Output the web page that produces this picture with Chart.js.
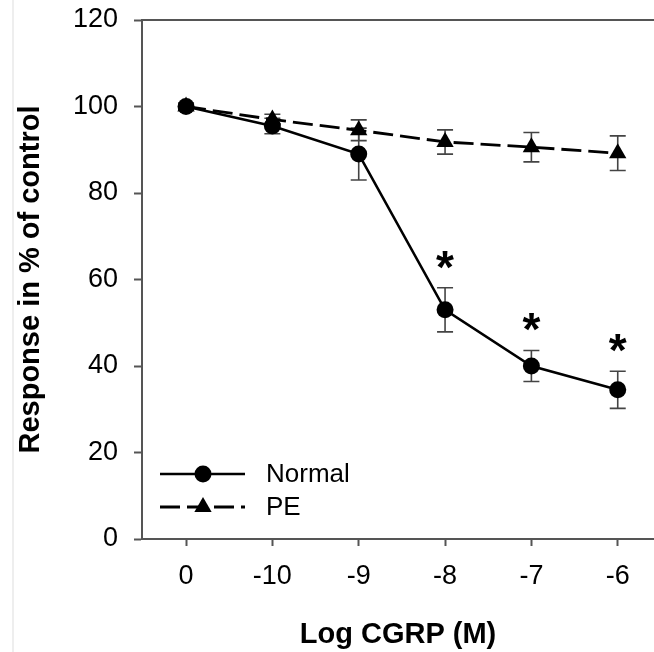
<!DOCTYPE html>
<html>
<head>
<meta charset="utf-8">
<script src="https://cdn.jsdelivr.net/npm/chart.js@4.4.0/dist/chart.umd.min.js"></script>
<style>
html, body { margin: 0; padding: 0; background: #fff; }
#wrap { width: 654px; height: 652px; position: relative; }
#edge { position: absolute; left: 12px; top: 0; width: 2px; height: 652px; background: #eeeeee; }
#myChart { position: absolute; left: 0; top: 0; }
</style>
</head>
<body>
<div id="wrap">
  <div id="edge"></div>
  <canvas id="myChart" width="654" height="652"></canvas>
</div>
<script>
// doses on the x axis (log M), 0 = control
var doses = ["0", "-10", "-9", "-8", "-7", "-6"];

// Normal group: mean and SEM
var normalMean = [100, 95.5, 89, 53, 40, 34.5];
var normalErr = [0.8, 1.8, 6.0, 5.1, 3.6, 4.3];
var normalStar = [false, false, false, true, true, true];

// PE group: mean and SEM
var peMean = [100, 97, 94.5, 91.8, 90.6, 89.2];
var peErr = [0.5, 1.2, 2.4, 2.8, 3.4, 4.0];

var yTicks = [0, 20, 40, 60, 80, 100, 120];

var FONT = "'Liberation Sans', Arial, Helvetica, sans-serif";
var AXIS_COLOR = "#555555";

function toPoints(means) {
    return means.map(function (m, i) { return { x: i, y: m }; });
}

// error bars, drawn before the markers so the markers sit on top
var errorBars = {
    id: "errorBars",
    beforeDatasetsDraw: function (chart) {
        var ctx = chart.ctx;
        var xs = chart.scales.x, ys = chart.scales.y;
        ctx.save();
        ctx.strokeStyle = "#444";
        ctx.lineWidth = 1.6;
        chart.data.datasets.forEach(function (ds) {
            ds.data.forEach(function (p, i) {
                var e = ds.errors[i];
                var x = xs.getPixelForValue(p.x);
                var yt = ys.getPixelForValue(p.y + e);
                var yb = ys.getPixelForValue(p.y - e);
                ctx.beginPath();
                ctx.moveTo(x, yt); ctx.lineTo(x, yb);
                ctx.moveTo(x - 8, yt); ctx.lineTo(x + 8, yt);
                ctx.moveTo(x - 8, yb); ctx.lineTo(x + 8, yb);
                ctx.stroke();
            });
        });
        ctx.restore();
    },
    // significance stars above the Normal error bars
    afterDatasetsDraw: function (chart) {
        var ctx = chart.ctx;
        var xs = chart.scales.x, ys = chart.scales.y;
        ctx.save();
        ctx.fillStyle = "#000";
        ctx.font = "bold 46px " + FONT;
        ctx.textAlign = "center";
        ctx.textBaseline = "alphabetic";
        normalStar.forEach(function (s, i) {
            if (!s) return;
            var x = xs.getPixelForValue(i);
            var y = ys.getPixelForValue(normalMean[i] + normalErr[i]);
            ctx.fillText("*", x, y - 5);
        });
        ctx.restore();
    }
};

// top frame line
var frame = {
    id: "frame",
    afterDraw: function (chart) {
        var a = chart.chartArea, ctx = chart.ctx;
        ctx.save();
        ctx.strokeStyle = AXIS_COLOR;
        ctx.lineWidth = 2;
        ctx.beginPath();
        ctx.moveTo(a.left, a.top);
        ctx.lineTo(a.right, a.top);
        ctx.stroke();
        ctx.restore();
    }
};

// legend inside the plot, bottom left
var insideLegend = {
    id: "insideLegend",
    afterDraw: function (chart) {
        var a = chart.chartArea, ctx = chart.ctx;
        var rows = [a.bottom - 65, a.bottom - 32];
        ctx.save();
        chart.data.datasets.forEach(function (ds, i) {
            var y = rows[i];
            var x0 = a.left + 18, x1 = a.left + 103, xm = a.left + 61;
            ctx.strokeStyle = ds.borderColor;
            ctx.lineWidth = ds.borderWidth;
            ctx.setLineDash(ds.borderDash || []);
            ctx.beginPath();
            ctx.moveTo(x0, y); ctx.lineTo(x1, y);
            ctx.stroke();
            ctx.setLineDash([]);
            ctx.fillStyle = ds.pointBackgroundColor;
            Chart.helpers.drawPoint(ctx, {
                pointStyle: ds.pointStyle, radius: ds.pointRadius, rotation: 0, borderWidth: 0
            }, xm, y);
            ctx.fillStyle = "#000";
            ctx.font = "26px " + FONT;
            ctx.textAlign = "left";
            ctx.textBaseline = "middle";
            ctx.fillText(ds.label, a.left + 124, y + 1);
        });
        ctx.restore();
    }
};

new Chart("myChart", {
    type: "line",
    data: {
        datasets: [{
            label: "Normal",
            data: toPoints(normalMean),
            errors: normalErr,
            borderColor: "#000",
            borderWidth: 2.5,
            pointStyle: "circle",
            pointRadius: 8.5,
            pointBackgroundColor: "#000",
            pointBorderWidth: 0,
            tension: 0
        }, {
            label: "PE",
            data: toPoints(peMean),
            errors: peErr,
            borderColor: "#000",
            borderWidth: 2.8,
            borderDash: [20, 7],
            pointStyle: "triangle",
            pointRadius: 10,
            pointBackgroundColor: "#000",
            pointBorderWidth: 0,
            tension: 0
        }]
    },
    options: {
        responsive: false,
        animation: false,
        layout: { autoPadding: false, padding: { left: 14, top: 20, right: 0, bottom: 0 } },
        plugins: {
            legend: { display: false },
            tooltip: { enabled: false }
        },
        scales: {
            x: {
                type: "linear",
                min: -0.51,
                max: 5.42,
                afterBuildTicks: function (scale) {
                    scale.ticks = doses.map(function (d, i) { return { value: i }; });
                },
                afterFit: function (scale) {
                    scale.height = 113;
                    scale.paddingLeft = 0;
                    scale.paddingRight = 0;
                },
                ticks: {
                    callback: function (v) { return doses[v]; },
                    font: { family: FONT, size: 27 },
                    color: "#000",
                    padding: 14,
                    maxRotation: 0
                },
                grid: { drawOnChartArea: false, tickLength: 7, tickColor: AXIS_COLOR, tickWidth: 2 },
                border: { color: AXIS_COLOR, width: 2 },
                title: {
                    display: true,
                    text: "Log CGRP (M)",
                    font: { family: FONT, size: 29, weight: "bold" },
                    color: "#000",
                    padding: 0
                }
            },
            y: {
                min: 0,
                max: 120,
                afterBuildTicks: function (scale) {
                    scale.ticks = yTicks.map(function (v) { return { value: v }; });
                },
                afterFit: function (scale) {
                    scale.width = 128;
                    scale.paddingTop = 0;
                    scale.paddingBottom = 0;
                },
                ticks: {
                    font: { family: FONT, size: 27 },
                    color: "#000",
                    padding: 16
                },
                grid: { drawOnChartArea: false, tickLength: 8, tickColor: AXIS_COLOR, tickWidth: 2 },
                border: { color: AXIS_COLOR, width: 2 },
                title: {
                    display: true,
                    text: "Response in % of control",
                    font: { family: FONT, size: 29, weight: "bold" },
                    color: "#000",
                    padding: 0
                }
            }
        }
    },
    plugins: [errorBars, frame, insideLegend]
});
</script>
</body>
</html>
